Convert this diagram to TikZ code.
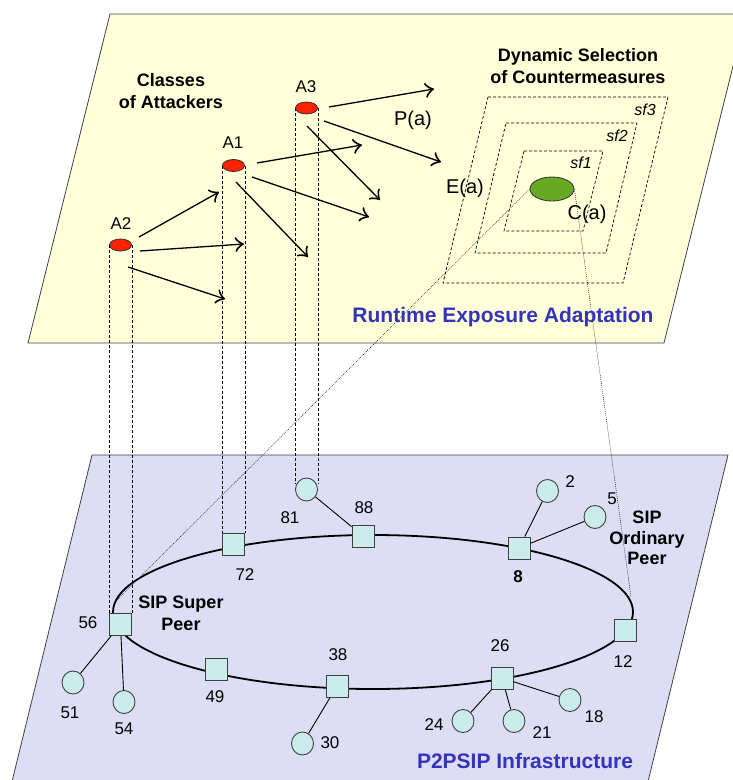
\documentclass[tikz,border=0pt]{standalone}
\usepackage{fontspec}
\setmainfont{Liberation Sans}
\usetikzlibrary{arrows.meta,shapes.geometric}
\definecolor{planeY}{HTML}{FFFFD9}
\definecolor{planeB}{HTML}{DDDDF5}
\definecolor{nodeC}{HTML}{CCEBEB}
\definecolor{titleB}{HTML}{3333BB}
\definecolor{attRed}{HTML}{FF2200}
\definecolor{cmGreen}{HTML}{66AA22}
\definecolor{edgeG}{HTML}{404040}
\begin{document}
\begin{tikzpicture}[x=1pt,y=-1pt,
  planebox/.style={draw=edgeG, line width=0.8pt},
  peersq/.style={draw=edgeG, fill=nodeC, line width=0.9pt, minimum width=22pt, minimum height=22pt, inner sep=0pt},
  peerci/.style={ellipse, draw=edgeG, fill=nodeC, line width=0.9pt, minimum width=22pt, minimum height=23pt, inner sep=0pt},
  attacker/.style={ellipse, draw=black!80, fill=attRed, line width=0.8pt, minimum width=22pt, minimum height=12pt, inner sep=0pt},
  numlab/.style={font=\fontsize{17}{20}\selectfont, inner sep=0pt},
  headlab/.style={font=\fontsize{18}{22}\selectfont\bfseries, align=center, inner sep=0pt},
  biglab/.style={font=\fontsize{20}{24}\selectfont, inner sep=0pt},
  sflab/.style={font=\fontsize{16}{19}\selectfont\itshape, inner sep=0pt},
  titlelab/.style={font=\fontsize{21}{25}\selectfont\bfseries, text=titleB, inner sep=0pt},
  arr/.style={line width=1.3pt, -{Classical TikZ Rightarrow[length=9pt,width=15pt,line width=1.6pt]}},
  vdash/.style={line width=0.6pt, dash pattern=on 3pt off 2pt},
  sfbox/.style={line width=0.7pt, dash pattern=on 3pt off 2pt},
  thindot/.style={line width=0.4pt, dash pattern=on 1pt off 1pt},
  linkline/.style={line width=0.9pt},
  ringline/.style={line width=1.8pt}
]
\useasboundingbox (0,0) rectangle (732,780);

% planes
\draw[planebox, fill=planeY] (110,14) -- (746,14) -- (664,343) -- (28,343) -- cycle;
\draw[planebox, fill=planeB] (92,455) -- (728,455) -- (643.5,800) -- (7.5,800) -- cycle;

% countermeasure boxes
\draw[sfbox] (488,97) -- (668,97) -- (623,283) -- (443,283) -- cycle;
\draw[sfbox] (506,123) -- (637,123) -- (606,253) -- (475,253) -- cycle;
\draw[sfbox] (524,151) -- (603,151) -- (583,231) -- (504,231) -- cycle;
\node[sflab] (sf3) at (645,110) {sf3};
\node[sflab] (sf2) at (617,136) {sf2};
\node[sflab] (sf1) at (581,163) {sf1};

% ring
\draw[ringline] (373,612) ellipse [x radius=260, y radius=77];
\coordinate (ringL) at (115,602);
\coordinate (ringR) at (631,597);

% attackers
\node[attacker] (A3) at (306.5,108) {};
\node[attacker] (A1) at (233.5,165.5) {};
\node[attacker] (A2) at (120.5,245) {};
\node[ellipse, draw=black!80, fill=cmGreen, line width=0.8pt, minimum width=44pt, minimum height=24pt, inner sep=0pt] (cm) at (552,189) {};

% peers (squares)
\node[peersq] (n56) at (120.5,624.5) {};
\node[peersq] (n72) at (233.5,544.5) {};
\node[peersq] (n88) at (363,536) {};
\node[peersq] (n8) at (519,548) {};
\node[peersq] (n12) at (625,630.5) {};
\node[peersq] (n26) at (502,678) {};
\node[peersq] (n38) at (337,686) {};
\node[peersq] (n49) at (216,669) {};
% peers (circles)
\node[peerci] (n81) at (306.5,489.5) {};
\node[peerci] (n2) at (547.5,491) {};
\node[peerci] (n5) at (595,517) {};
\node[peerci] (n51) at (73,682.5) {};
\node[peerci] (n54) at (124,702) {};
\node[peerci] (n30) at (302.5,743.5) {};
\node[peerci] (n24) at (463,721) {};
\node[peerci] (n21) at (514,721) {};
\node[peerci] (n18) at (570,700) {};

% links
\draw[linkline] (n88) -- (n81);
\draw[linkline] (n8) -- (n2);
\draw[linkline] (n8) -- (n5);
\draw[linkline] (n56) -- (n51);
\draw[linkline] (n56) -- (n54);
\draw[linkline] (n38) -- (n30);
\draw[linkline] (n26) -- (n24);
\draw[linkline] (n26) -- (n21);
\draw[linkline] (n26) -- (n18);

% vertical projections
\draw[vdash] (A2.west) -- (A2.west |- n56.north);
\draw[vdash] (A2.east) -- (A2.east |- n56.north);
\draw[vdash] (A1.west) -- (A1.west |- n72.north);
\draw[vdash] (A1.east) -- (A1.east |- n72.north);
\draw[vdash] (A3.west) -- (A3.west |- n81.150);
\draw[vdash] (A3.east) -- (A3.east |- n81.30);
\draw[thindot] (cm.west) -- (ringL);
\draw[thindot] (cm.east) -- (ringR);

% attack arrows
\coordinate (p1s) at (329,107); \coordinate (p1e) at (434,89);
\coordinate (p2s) at (324,121); \coordinate (p2e) at (441,162);
\coordinate (p3s) at (307,126); \coordinate (p3e) at (380,200);
\coordinate (p4s) at (257,163); \coordinate (p4e) at (362,145);
\coordinate (p5s) at (252,177); \coordinate (p5e) at (369,217);
\coordinate (p6s) at (236,182); \coordinate (p6e) at (308,257);
\coordinate (p7s) at (139,237); \coordinate (p7e) at (219,192);
\coordinate (p8s) at (140,251); \coordinate (p8e) at (244,244);
\coordinate (p9s) at (128,267); \coordinate (p9e) at (225,299);
\foreach \i in {1,...,9} {\draw[arr] (p\i s) -- (p\i e);}

% labels top
\node[headlab] (classes) at (171,91) {Classes\\of Attackers};
\node[headlab] (dyn) at (578,66) {Dynamic Selection\\of Countermeasures};
\node[numlab] (lA3) at (306,87) {A3};
\node[numlab] (lA1) at (233,143) {A1};
\node[numlab] (lA2) at (121,224) {A2};
\node[biglab] (pa) at (413,120) {P(a)};
\node[biglab] (ea) at (465,188) {E(a)};
\node[biglab] (ca) at (587,214) {C(a)};
\node[titlelab] (rea) at (503,317) {Runtime Exposure Adaptation};

% labels bottom
\node[numlab] (l72) at (245,575) {72};
\node[numlab] (l88) at (364,508) {88};
\node[numlab, font=\fontsize{17}{20}\selectfont\bfseries] (l8) at (518,577) {8};
\node[numlab] (l12) at (623,662) {12};
\node[numlab] (l26) at (500,646) {26};
\node[numlab] (l38) at (338,655) {38};
\node[numlab] (l49) at (215,697) {49};
\node[numlab] (l56) at (88,623) {56};
\node[numlab] (l81) at (290,518) {81};
\node[numlab] (l2) at (570,482) {2};
\node[numlab] (l5) at (612,499) {5};
\node[numlab] (l51) at (70,713) {51};
\node[numlab] (l54) at (124,729) {54};
\node[numlab] (l30) at (330,743) {30};
\node[numlab] (l24) at (434,725) {24};
\node[numlab] (l21) at (542,733) {21};
\node[numlab] (l18) at (594,717) {18};
\node[headlab] (ssp) at (181,613) {SIP Super\\Peer};
\node[headlab, font=\fontsize{18}{20.5}\selectfont\bfseries] (sop) at (647,538) {SIP\\Ordinary\\Peer};
\node[titlelab] (infra) at (525,761) {P2PSIP Infrastructure};
\end{tikzpicture}
\end{document}
